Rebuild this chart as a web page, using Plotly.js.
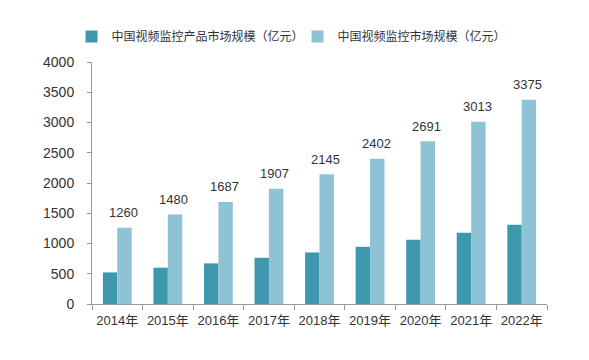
<!DOCTYPE html>
<html>
<head>
<meta charset="utf-8">
<script src="https://cdn.plot.ly/plotly-3.0.1.min.js"></script>
<style>html,body{margin:0;padding:0;background:#fff;}#chart{width:589px;height:360px;}</style>
</head>
<body>
<div id="chart"></div>
<script>
const categories = ['2014年','2015年','2016年','2017年','2018年','2019年','2020年','2021年','2022年'];
const productMarket = [522, 600, 671, 764, 852, 945, 1061, 1177, 1309];
const totalMarket = [1260, 1480, 1687, 1907, 2145, 2402, 2691, 3013, 3375];
const seriesNames = ['中国视频监控产品市场规模（亿元）', '中国视频监控市场规模（亿元）'];

const FONT = 'Liberation Sans, Arial, "Noto Sans CJK SC", sans-serif';

const traces = [
  {type:'bar', name: seriesNames[0], x: categories, y: productMarket, marker:{color:'#3d97ad'}, hoverinfo:'none'},
  {type:'bar', name: seriesNames[1], x: categories, y: totalMarket, marker:{color:'#8ec3d5'}, hoverinfo:'none'}
];

const annotations = categories.map((c, i) => ({
  x: c, y: totalMarket[i], xref:'x', yref:'y', text: String(totalMarket[i]),
  showarrow:false, xshift: 6, yshift: 15, font:{family:FONT, size:13, color:'#333'}
}));

const layout = {
  width:589, height:360,
  margin:{l:92, r:42, t:62, b:56},
  paper_bgcolor:'#fff', plot_bgcolor:'#fff',
  barmode:'group', bargap:0.43, bargroupgap:0,
  font:{family:FONT, size:13, color:'#333'},
  showlegend:true,
  legend:{orientation:'h', x:-0.045, xanchor:'left', y:1.105, yanchor:'middle',
    entrywidth:181, entrywidthmode:'pixels', font:{family:'"Noto Sans CJK SC", sans-serif', size:12, color:'#333'},
    itemclick:false, bgcolor:'rgba(0,0,0,0)'},
  xaxis:{type:'category', showline:true, linecolor:'#999', linewidth:1, ticks:'outside', ticklen:5, tickcolor:'#999',
    tickson:'boundaries', tickangle:0, ticklabelstandoff:4, showgrid:false, zeroline:false, tickfont:{size:13, color:'#333', family:'Liberation Sans, "Noto Sans CJK SC", sans-serif'}},
  yaxis:{range:[0,4000], dtick:500, showline:true, linecolor:'#999', linewidth:1, ticks:'outside', ticklen:4, tickcolor:'#999',
    showgrid:false, zeroline:false, tickfont:{size:14, color:'#333'}, ticklabelstandoff:10},
  annotations: annotations
};

Plotly.newPlot('chart', traces, layout, {displayModeBar:false, staticPlot:true});
</script>
</body>
</html>
